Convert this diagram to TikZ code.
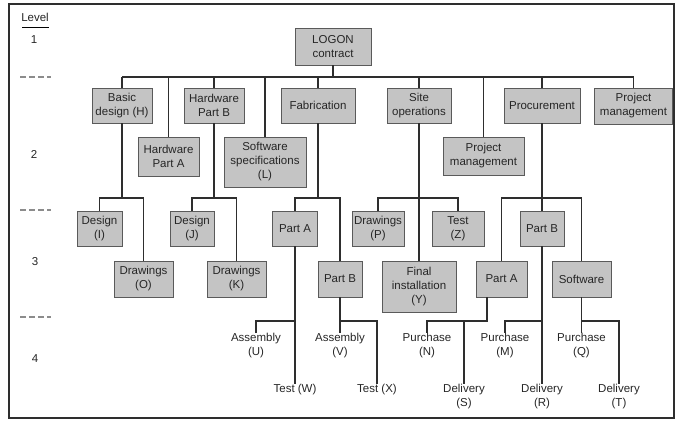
\documentclass[tikz,border=0pt]{standalone}
\usepackage{fontspec}
\setmainfont{Liberation Sans}
\usetikzlibrary{calc}
\definecolor{boxfill}{HTML}{C4C4C4}
\definecolor{boxedge}{HTML}{5A5A5A}
\definecolor{linkcol}{HTML}{2E2E2E}
\definecolor{rulegray}{HTML}{8C8C8C}
\newcommand{\wbsfont}{\fontsize{11.5}{14}\selectfont}
\begin{document}
\begin{tikzpicture}[x=1pt,y=-1pt,
  wbs/.style={draw=boxedge, fill=boxfill, line width=0.9pt, align=center,
              inner sep=0pt, font=\wbsfont, text=black!85},
  leaf/.style={align=center, inner sep=0pt, font=\wbsfont, anchor=north, text=black!85},
  link/.style={draw=linkcol, line width=1.15pt},
  lvl/.style={font=\wbsfont, inner sep=0pt, text=black!85},
  lvlsep/.style={draw=rulegray, line width=1.1pt, dash pattern=on 6pt off 3pt},
]
\useasboundingbox (0,0) rectangle (675,421);
\draw[line width=1.3pt, draw=linkcol] (9,4) rectangle (674,418);

% level column
\node[lvl] (lvlhead) at (35,17) {Level};
\draw[line width=0.8pt] (22,27.5) -- (49,27.5);
\node[lvl] (l1) at (34,40) {1};
\node[lvl] (l2) at (34,154) {2};
\node[lvl] (l3) at (35,262) {3};
\node[lvl] (l4) at (35,359) {4};
\draw[lvlsep] (20,77) -- (51,77);
\draw[lvlsep] (20,210) -- (51,210);
\draw[lvlsep] (20,317) -- (51,317);

% bus heights
\coordinate (b1) at (0,77);
\coordinate (b2) at (0,198);
\coordinate (b3) at (0,321);

% level 1
\node[wbs, minimum width=76pt, minimum height=37pt] (logon) at (333,46.5) {LOGON\\contract};

% level 2
\node[wbs, minimum width=60pt, minimum height=35pt] (basic) at (122,105.5) {Basic\\design (H)};
\node[wbs, minimum width=61pt, minimum height=39pt] (hwa) at (168.5,156.5) {Hardware\\Part A};
\node[wbs, minimum width=60pt, minimum height=35pt] (hwb) at (214,105.5) {Hardware\\Part B};
\node[wbs, minimum width=82pt, minimum height=50pt] (soft) at (265,162) {Software\\specifications\\(L)};
\node[wbs, minimum width=74pt, minimum height=35pt] (fab) at (318,105.5) {Fabrication};
\node[wbs, minimum width=64pt, minimum height=35pt] (site) at (419,105.5) {Site\\operations};
\node[wbs, minimum width=81pt, minimum height=38pt] (pml) at (483.5,156) {Project\\management};
\node[wbs, minimum width=76pt, minimum height=35pt] (proc) at (542,105.5) {Procurement};
\node[wbs, minimum width=78pt, minimum height=36pt] (pmr) at (633.5,106) {Project\\management};

% level 3
\node[wbs, minimum width=45pt, minimum height=35pt] (desI) at (99.5,228.5) {Design\\(I)};
\node[wbs, minimum width=59pt, minimum height=36pt] (drwO) at (143.5,279) {Drawings\\(O)};
\node[wbs, minimum width=44pt, minimum height=35pt] (desJ) at (192,228.5) {Design\\(J)};
\node[wbs, minimum width=59pt, minimum height=36pt] (drwK) at (236.5,279) {Drawings\\(K)};
\node[wbs, minimum width=45pt, minimum height=35pt] (fA) at (295,228.5) {Part A};
\node[wbs, minimum width=44pt, minimum height=36pt] (fB) at (340,279) {Part B};
\node[wbs, minimum width=52pt, minimum height=35pt] (drwP) at (378,228.5) {Drawings\\(P)};
\node[wbs, minimum width=52pt, minimum height=35pt] (tstZ) at (458,228.5) {Test\\(Z)};
\node[wbs, minimum width=74pt, minimum height=51pt] (finY) at (419,286.5) {Final\\installation\\(Y)};
\node[wbs, minimum width=44pt, minimum height=35pt] (pB) at (542,228.5) {Part B};
\node[wbs, minimum width=51pt, minimum height=36pt] (pA) at (501.5,279) {Part A};
\node[wbs, minimum width=59pt, minimum height=36pt] (sw) at (581.5,279) {Software};

% level 4
\node[leaf] (aU) at (256,333) {Assembly\\(U)};
\node[leaf] (tW) at (295,384) {Test (W)};
\node[leaf] (aV) at (340,333) {Assembly\\(V)};
\node[leaf] (tX) at (377,384) {Test (X)};
\node[leaf] (pN) at (427,333) {Purchase\\(N)};
\node[leaf] (dS) at (464,384) {Delivery\\(S)};
\node[leaf] (pM) at (505,333) {Purchase\\(M)};
\node[leaf] (dR) at (542,384) {Delivery\\(R)};
\node[leaf] (pQ) at (581.5,333) {Purchase\\(Q)};
\node[leaf] (dT) at (619,384) {Delivery\\(T)};

% connectors: level 1 to 2
\draw[link] (logon.south) -- (logon.south |- b1);
\draw[link] (basic.north |- b1) -- (pmr.north |- b1);
\foreach \n in {basic,hwa,hwb,soft,fab,site,pml,proc,pmr}
  \draw[link] (\n.north) -- (\n.north |- b1);

% level 2 to 3
\draw[link] (basic.south) -- (basic.south |- b2);
\draw[link] (desI.north) |- (drwO.north |- b2) -- (drwO.north);
\draw[link] (hwb.south) -- (hwb.south |- b2);
\draw[link] (desJ.north) |- (drwK.north |- b2) -- (drwK.north);
\draw[link] (fab.south) -- (fab.south |- b2);
\draw[link] (fA.north) |- (fB.north |- b2) -- (fB.north);
\draw[link] (site.south) -- (finY.north);
\draw[link] (drwP.north) |- (tstZ.north |- b2) -- (tstZ.north);
\draw[link] (proc.south) -- (pB.north);
\draw[link] (pA.north) |- (sw.north |- b2) -- (sw.north);

% level 3 to 4
\draw[link] (fA.south) -- (tW.north);
\draw[link] (aU.north) |- (fA.south |- b3);
\draw[link] (fB.south) -- (aV.north);
\draw[link] (fB.south |- b3) -| (tX.north);
\coordinate (pAstem) at ($(pA.south)+(-14.5,0)$);
\draw[link] (pAstem) |- (pN.north |- b3) -- (pN.north);
\draw[link] (dS.north) -- (dS.north |- b3);
\draw[link] (pB.south) -- (dR.north);
\draw[link] (pM.north) |- (pB.south |- b3);
\draw[link] (sw.south) -- (pQ.north);
\draw[link] (sw.south |- b3) -| (dT.north);
\end{tikzpicture}
\end{document}
